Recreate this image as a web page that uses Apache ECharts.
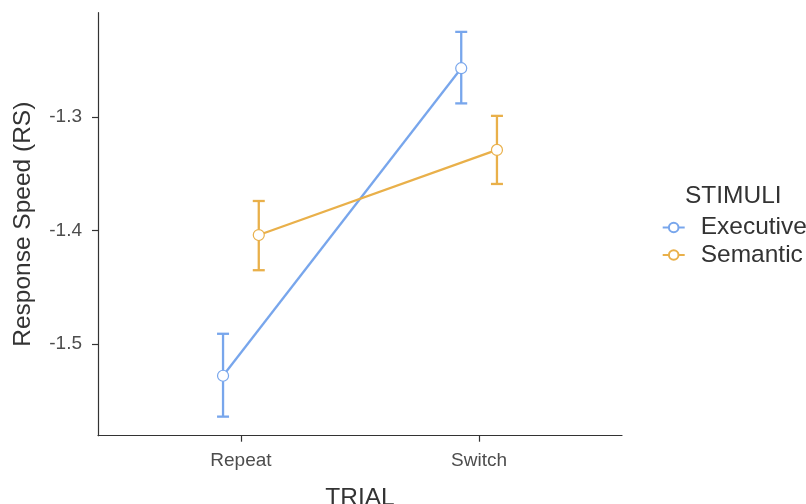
<!DOCTYPE html>
<html>
<head>
<meta charset="utf-8">
<script src="https://cdn.jsdelivr.net/npm/echarts@6/dist/echarts.min.js"></script>
<style>
  html, body { margin: 0; padding: 0; background: #fff; }
  #chart { width: 806px; height: 504px; }
</style>
</head>
<body>
<div id="chart"></div>
<script>
// Trial type on the x axis, one dodged line per stimulus group
const categories = ['Repeat', 'Switch'];
const groups = ['Executive', 'Semantic'];

// Mean response speed and error bar limits, per trial type
const executiveMean = [-1.528, -1.257];
const executiveLow  = [-1.564, -1.288];
const executiveHigh = [-1.491, -1.225];

const semanticMean = [-1.404, -1.329];
const semanticLow  = [-1.435, -1.359];
const semanticHigh = [-1.374, -1.299];

const yTicks = [-1.5, -1.4, -1.3];

const FONT = "'Liberation Sans', Arial, Helvetica, sans-serif";
const colors = { Executive: '#78a6ec', Semantic: '#e9b04a' };
const dodge = { Executive: -0.075, Semantic: 0.075 };

const seriesData = {
  Executive: { mean: executiveMean, low: executiveLow, high: executiveHigh },
  Semantic:  { mean: semanticMean,  low: semanticLow,  high: semanticHigh }
};

const xPos = (i, g) => i + 1 + dodge[g];

function errorBarSeries(g) {
  const d = seriesData[g];
  return {
    type: 'custom',
    name: g + ' error',
    z: 2,
    silent: true,
    data: categories.map((c, i) => [xPos(i, g), d.low[i], d.high[i]]),
    renderItem: function (params, api) {
      const lowPt = api.coord([api.value(0), api.value(1)]);
      const highPt = api.coord([api.value(0), api.value(2)]);
      const half = 6;
      const style = { stroke: colors[g], lineWidth: 2.3, fill: null };
      return {
        type: 'group',
        children: [
          { type: 'line', shape: { x1: lowPt[0], y1: lowPt[1], x2: highPt[0], y2: highPt[1] }, style: style },
          { type: 'line', shape: { x1: highPt[0] - half, y1: highPt[1], x2: highPt[0] + half, y2: highPt[1] }, style: style },
          { type: 'line', shape: { x1: lowPt[0] - half, y1: lowPt[1], x2: lowPt[0] + half, y2: lowPt[1] }, style: style }
        ]
      };
    }
  };
}

function lineSeries(g) {
  const d = seriesData[g];
  return {
    type: 'line',
    name: g,
    z: 3,
    data: categories.map((c, i) => [xPos(i, g), d.mean[i]]),
    symbol: 'circle',
    symbolSize: 11,
    showAllSymbol: true,
    lineStyle: { color: colors[g], width: 2.3 },
    itemStyle: { color: '#ffffff', borderColor: colors[g], borderWidth: 1.2 },
    emphasis: { disabled: true },
    animation: false
  };
}

const chart = echarts.init(document.getElementById('chart'), null, { renderer: 'canvas' });

chart.setOption({
  animation: false,
  backgroundColor: '#ffffff',
  grid: { left: 98, right: 184, top: 12.7, bottom: 68.3, containLabel: false, outerBoundsMode: 'none' },
  title: {
    text: 'STIMULI',
    left: 680,
    top: 178.5,
    textStyle: { fontFamily: FONT, fontSize: 24.5, fontWeight: 'normal', color: '#333333' }
  },
  legend: {
    data: groups,
    orient: 'vertical',
    left: 656.7,
    top: 210,
    itemWidth: 22,
    itemHeight: 12,
    itemGap: 2.5,
    textStyle: { fontFamily: FONT, fontSize: 24.5, color: '#333333', padding: [0, 0, 0, 11] },
    selectedMode: false
  },
  xAxis: {
    type: 'value',
    min: 0.4,
    max: 2.6,
    name: 'TRIAL',
    nameLocation: 'middle',
    nameGap: 50,
    nameTextStyle: { fontFamily: FONT, fontSize: 24.5, color: '#333333' },
    splitLine: { show: false },
    axisLine: { show: true, onZero: false, lineStyle: { color: '#333333', width: 1.2 } },
    axisTick: { show: true, customValues: [1, 2], length: 6, lineStyle: { color: '#333333', width: 1.2 } },
    axisLabel: {
      customValues: [1, 2],
      margin: 16,
      fontFamily: FONT,
      fontSize: 19,
      color: '#4d4d4d',
      formatter: v => categories[Math.round(v) - 1] || ''
    }
  },
  yAxis: {
    type: 'value',
    min: -1.5808,
    max: -1.2081,
    name: 'Response Speed (RS)',
    nameLocation: 'middle',
    nameGap: 62,
    nameTextStyle: { fontFamily: FONT, fontSize: 24.5, color: '#333333' },
    splitLine: { show: false },
    axisLine: { show: true, onZero: false, lineStyle: { color: '#333333', width: 1.2 } },
    axisTick: { show: true, customValues: yTicks, length: 6, lineStyle: { color: '#333333', width: 1.2 } },
    axisLabel: {
      customValues: yTicks,
      margin: 16,
      fontFamily: FONT,
      fontSize: 19,
      color: '#4d4d4d',
      formatter: v => v.toFixed(1)
    }
  },
  series: [
    errorBarSeries('Executive'),
    errorBarSeries('Semantic'),
    lineSeries('Executive'),
    lineSeries('Semantic')
  ]
});
</script>
</body>
</html>
